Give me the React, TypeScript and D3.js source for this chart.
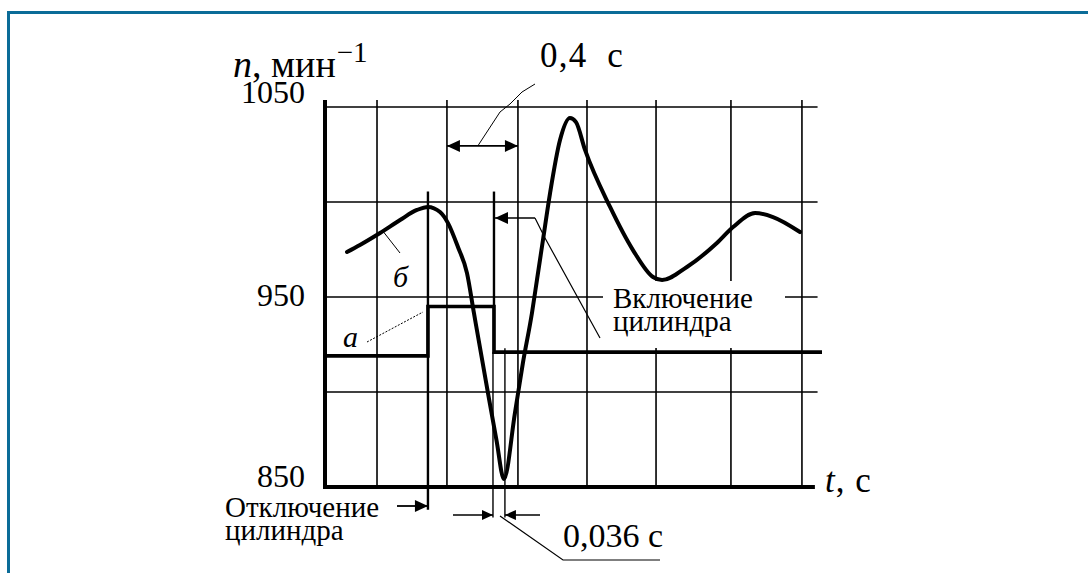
import React from "react";
import * as d3 from "d3";

// ---- data ----
const timeGrid = [0.293, 0.687, 1.087, 1.476, 1.865, 2.287, 2.687]; // s
const speedGrid = [900, 950, 1000, 1050]; // min^-1
const speedTicks = [850, 950, 1050];

// curve "б": engine speed
const curveT = [0.124, 0.197, 0.31, 0.423, 0.518, 0.58, 0.648, 0.693, 0.749, 0.8, 0.839, 0.918, 0.966, 1.008, 1.07, 1.115, 1.166, 1.194, 1.228, 1.268, 1.324, 1.38, 1.414, 1.465, 1.606, 1.735, 1.848, 1.899, 2.039, 2.208, 2.299, 2.423, 2.524, 2.676];
const curveN = [973.7, 977.4, 983.7, 990.5, 995.8, 997.4, 994.7, 988.9, 976.3, 962.6, 941.6, 899.5, 874.7, 854.2, 888.9, 915.3, 941.6, 958.9, 980, 1004.7, 1032.6, 1044.2, 1042, 1027.4, 997.4, 974.7, 960.5, 958.9, 965.8, 978.4, 986.8, 994.2, 992.1, 984.2];

// step "а": cylinder signal
const stepT = [0, 0.58, 0.58, 0.952, 0.952, 2.8];
const stepN = [919, 919, 945, 945, 921, 921];

const cutOffT = 0.58;
const cutInT = 0.952;
const minT = 1.008;
const spanStart = 0.687;
const spanEnd = 1.087;

const W = 1088;
const H = 573;

const x = d3.scaleLinear().domain([0, 2.8]).range([325, 822]);
const y = d3.scaleLinear().domain([850, 1050]).range([487, 107]);

const FONT = "'Liberation Serif', 'Times New Roman', serif";

function Arrow({ tipX, tipY, dir, len = 13, half = 6 }: { tipX: number; tipY: number; dir: 1 | -1; len?: number; half?: number }) {
  // dir 1 = pointing right, -1 = pointing left
  const bx = tipX - dir * len;
  return <path d={`M${tipX},${tipY} L${bx},${tipY - half} L${bx},${tipY + half} Z`} fill="#000" />;
}

export default function App() {
  const line = d3
    .line<number>()
    .x((_, i) => x(curveT[i]))
    .y((d) => y(d))
    .curve(d3.curveMonotoneX);
  const stepLine = d3
    .line<number>()
    .x((_, i) => x(stepT[i]))
    .y((d) => y(d));

  const gridTop = y(1053.7);
  const xEnd = x(2.76);
  const gridRight = x(2.775);
  const y0 = y(850);

  const xOff = x(cutOffT);
  const xOn = x(cutInT);
  const xMin = x(minT);
  const xOnThin = xOn - 1;
  const markTop = y(1005.5);

  const spanY = y(1029.5);
  const sx1 = x(spanStart);
  const sx2 = x(spanEnd);

  const tickDy: Record<number, number> = { 1050: -4, 950: 9, 850: 0 };

  return (
    <svg width={W} height={H} style={{ position: "absolute", left: 0, top: 0, background: "#fff" }} fontFamily={FONT}>
      <rect x={0} y={0} width={W} height={H} fill="#fff" />
      {/* frame */}
      <path d={`M8.5,${H + 5} L8.5,12.5 L${W + 5},12.5`} fill="none" stroke="#0b6c98" strokeWidth={3} />

      {/* grid */}
      {speedGrid.map((v) => (
        <line key={"h" + v} x1={x(0)} x2={gridRight} y1={y(v)} y2={y(v)} stroke="#000" strokeWidth={1.6} />
      ))}
      {timeGrid.map((t) => (
        <line key={"v" + t} x1={x(t)} x2={x(t)} y1={gridTop} y2={y0} stroke="#000" strokeWidth={1.6} />
      ))}

      {/* white space behind label */}
      <rect x={603} y={281} width={182} height={67} fill="#fff" />

      {/* event markers */}
      <line x1={xOff} x2={xOff} y1={markTop} y2={y(838)} stroke="#000" strokeWidth={2.4} />
      <line x1={xOn} x2={xOn} y1={markTop} y2={y(921)} stroke="#000" strokeWidth={2.4} />
      <line x1={xOnThin} x2={xOnThin} y1={y(921)} y2={y(834)} stroke="#000" strokeWidth={1.4} />
      <line x1={xMin + 1} x2={xMin + 1} y1={y(923)} y2={y(834)} stroke="#000" strokeWidth={1.4} />

      {/* axes */}
      <line x1={x(0)} x2={x(0)} y1={gridTop} y2={y0 + 2} stroke="#000" strokeWidth={4} />
      <line x1={x(0) - 2} x2={xEnd} y1={y0} y2={y0} stroke="#000" strokeWidth={4} />

      {/* step a */}
      <path d={stepLine(stepN) || ""} fill="none" stroke="#000" strokeWidth={3.6} />
      {/* curve б */}
      <path d={line(curveN) || ""} fill="none" stroke="#000" strokeWidth={4} strokeLinejoin="round" strokeLinecap="round" />

      {/* 0,4 s span */}
      <line x1={sx1} x2={sx2} y1={spanY} y2={spanY} stroke="#000" strokeWidth={1.8} />
      <Arrow tipX={sx1} tipY={spanY} dir={-1} />
      <Arrow tipX={sx2} tipY={spanY} dir={1} />
      <path d={`M${(sx1 + sx2) / 2 - 4},${spanY - 1} L500,112 L510,104 L522,92 L535,84`} fill="none" stroke="#000" strokeWidth={1} />
      <text x={540} y={67} fontSize={35} letterSpacing={1.2}>0,4&#160;&#160;с</text>

      {/* Включение цилиндра leader */}
      <line x1={xOn + 1} x2={535} y1={218} y2={218} stroke="#000" strokeWidth={1.4} />
      <Arrow tipX={xOn + 1} tipY={218} dir={-1} />
      <path d="M535,218 L545,238 L600,338" fill="none" stroke="#000" strokeWidth={1.2} />
      <text x={613} y={308} fontSize={29}>Включение</text>
      <text x={613} y={331} fontSize={29}>цилиндра</text>

      {/* Отключение цилиндра */}
      <line x1={397} x2={xOff} y1={506} y2={506} stroke="#000" strokeWidth={1.8} />
      <Arrow tipX={xOff} tipY={506} dir={1} />
      <text x={225} y={517} fontSize={29}>Отключение</text>
      <text x={225} y={540} fontSize={29}>цилиндра</text>

      {/* 0,036 s */}
      <line x1={453} x2={xOnThin} y1={515} y2={515} stroke="#000" strokeWidth={1.6} />
      <Arrow tipX={xOnThin} tipY={515} dir={1} len={11} half={5} />
      <line x1={xMin + 1} x2={540} y1={515} y2={515} stroke="#000" strokeWidth={1.6} />
      <Arrow tipX={xMin + 1} tipY={515} dir={-1} len={11} half={5} />
      <path d={`M500,516 L563,560 L660,560`} fill="none" stroke="#000" strokeWidth={1.2} />
      <text x={563} y={547} fontSize={34}>0,036 с</text>

      {/* labels а, б */}
      <path d="M367,342 L423,312" fill="none" stroke="#000" strokeWidth={1} strokeDasharray="2,1.5" />
      <text x={343} y={347} fontSize={30} fontStyle="italic">а</text>
      <path d="M382,230 L400,253" fill="none" stroke="#000" strokeWidth={1} />
      <text x={393} y={287} fontSize={30} fontStyle="italic">б</text>

      {/* y tick labels */}
      {speedTicks.map((v) => (
        <text key={"t" + v} x={305} y={y(v) + tickDy[v]} fontSize={32} textAnchor="end">
          {v}
        </text>
      ))}

      {/* axis titles */}
      <text x={233} y={77} fontSize={38}>
        <tspan fontStyle="italic">n</tspan>
        <tspan>, мин</tspan>
        <tspan fontSize={29} dx={1} dy={-15}>−1</tspan>
      </text>
      <text x={825} y={492} fontSize={35} letterSpacing={1}>
        <tspan fontStyle="italic">t</tspan>
        <tspan>, с</tspan>
      </text>
    </svg>
  );
}
